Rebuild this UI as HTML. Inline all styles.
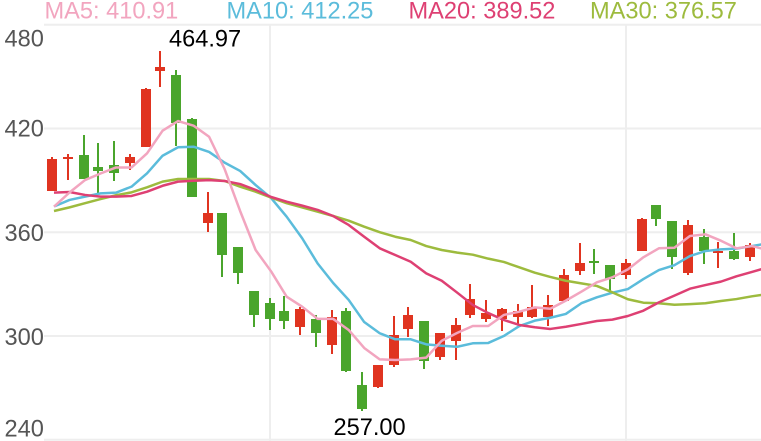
<!DOCTYPE html>
<html lang="en">
<head>
<meta charset="utf-8">
<title>Candlestick chart with moving averages</title>
<style>
html,body{margin:0;padding:0;background:#fff;width:761px;height:441px;overflow:hidden}
svg{display:block;font-family:"Liberation Sans",Arial,sans-serif}
</style>
</head>
<body>
<svg id="chart" width="761" height="441" viewBox="0 0 761 441" xmlns="http://www.w3.org/2000/svg">
  <g id="grid"></g>
  <g id="yaxis"></g>
  <g id="candles"></g>
  <g id="lines"></g>
  <g font-size="23.6">
    <text x="44.5" y="18.5" fill="#f2a5bf">MA5: 410.91</text>
    <text x="226.5" y="18.5" fill="#5bbcdb">MA10: 412.25</text>
    <text x="408.5" y="18.5" fill="#de4073">MA20: 389.52</text>
    <text x="590" y="18.5" fill="#9dbb3e">MA30: 376.57</text>
  </g>
  <text x="169" y="46.5" font-size="23.6" fill="#000">464.97</text>
  <text x="333.5" y="435" font-size="23.6" fill="#000">257.00</text>
</svg>
<script>
var yTicks = [480, 420, 360, 300, 240];
var yTickBaselines = ["46.5", "136.5", "241", "345", "436.5"];
var xGridCategories = [14, 37];
var opens = [384.2,402.7,405.0,398.1,399.2,400.4,409.7,453.7,451.3,425.9,365.6,371.4,351.8,326.3,319.3,314.7,305.4,310.1,295.0,314.7,271.8,270.7,283.4,304.3,308.9,288.1,297.3,312.4,310.1,310.1,311.2,311.2,311.2,320.5,337.9,343.6,341.3,335.5,349.4,376.1,366.8,336.7,357.5,348.3,349.4,346.0];
var closes = [402.7,403.9,391.1,395.8,394.6,403.9,443.2,456.0,423.5,380.7,371.4,347.1,336.7,312.4,310.1,308.9,315.9,302.0,311.2,280.0,258.0,283.4,300.8,312.4,285.7,302.0,306.6,321.6,313.5,315.9,314.7,317.0,318.2,335.5,342.5,342.5,333.2,342.5,368.0,368.0,346.0,364.5,349.4,349.4,344.8,352.9];
var lows = [384.2,390.5,391.1,382.4,390.0,396.3,409.7,444.4,410.2,380.7,360.4,334.6,330.3,305.4,303.7,304.3,300.8,293.9,290.0,279.2,257.0,270.1,282.4,299.6,281.1,286.3,286.2,310.6,308.3,303.1,307.2,310.6,306.0,320.5,335.5,336.3,326.3,333.2,349.4,363.9,339.0,335.7,341.9,339.6,344.2,343.6];
var highs = [404.0,405.6,416.6,412.1,413.1,405.6,443.8,464.97,454.2,426.4,383.8,371.4,351.8,326.3,322.2,323.6,317.2,312.2,315.3,316.4,279.6,283.4,311.8,317.0,308.9,302.0,310.5,330.5,320.9,316.4,318.7,329.7,323.8,339.0,354.1,350.6,341.3,344.8,368.5,376.1,366.8,367.4,362.0,354.6,359.9,354.1];
var ma5 = [375.1,383.3,390.5,394.3,397.8,397.8,406.0,419.1,424.7,422.0,415.6,396.9,372.6,350.0,337.6,323.0,317.2,310.1,310.1,303.7,293.3,286.7,286.3,286.7,287.7,297.5,302.0,306.0,306.0,312.4,314.3,316.8,316.0,320.7,325.9,331.3,334.2,338.8,345.8,351.0,351.3,358.1,359.1,355.4,351.0,352.3,350.0];
var ma10 = [375.2,379.0,380.9,382.8,383.2,386.7,394.4,404.6,409.5,409.8,406.8,400.6,395.8,387.6,380.1,369.3,356.8,342.2,330.9,321.1,308.3,301.8,298.3,298.3,295.4,294.6,294.0,296.0,296.2,300.2,306.0,309.1,310.8,313.0,319.2,322.6,325.3,327.4,333.2,338.4,341.2,346.5,349.4,350.4,350.8,352.3,353.8];
var ma20 = [383.2,383.6,381.9,380.9,380.9,381.3,383.8,387.2,389.6,390.1,390.5,390.0,388.2,384.8,380.7,378.0,375.7,373.2,369.7,364.5,357.7,351.0,347.1,343.2,336.5,332.2,325.3,318.2,313.5,309.5,306.6,305.3,304.3,305.6,307.2,308.9,309.7,311.8,314.9,319.7,323.6,327.6,329.7,331.7,334.8,337.3,339.9];
var ma30 = [372.6,374.7,377.1,379.5,381.7,383.4,386.3,389.6,391.1,391.1,391.1,390.0,386.7,383.8,380.4,377.1,374.7,372.2,369.7,367.0,363.5,360.3,357.7,355.8,352.3,350.0,348.5,347.3,345.0,343.1,340.0,336.9,334.4,332.2,330.7,329.2,325.5,321.5,319.5,319.2,318.3,318.7,319.2,320.5,321.6,323.2,324.5];

var NS = 'http://www.w3.org/2000/svg';
function yPrice(v) { return 25.5 + (480 - v) * 1.7271; }
function yGrid(v) { return 24.7 + (480 - v) * 1.7295; }
function xCandle(i) { return 2 * Math.round((52 + 15.51 * i) / 2); }
function xLine(i) { return 54 + 15.51 * i; }
function make(tag, attrs, parent) {
  var el = document.createElementNS(NS, tag);
  for (var k in attrs) { el.setAttribute(k, attrs[k]); }
  parent.appendChild(el);
  return el;
}

var gridG = document.getElementById('grid');
yTicks.forEach(function (t) {
  var l = make('line', { x1: 44, x2: 761, y1: yGrid(t), y2: yGrid(t), stroke: '#eeeeee', 'stroke-width': 2 }, gridG);
  
  
});
xGridCategories.forEach(function (c) {
  var x = xCandle(c);
  var l = make('line', { x1: x, x2: x, y1: 25, y2: 441, stroke: '#eeeeee', 'stroke-width': 2 }, gridG);
  
  
});

var yaxisG = document.getElementById('yaxis');
yTicks.forEach(function (t, i) {
  var tx = make('text', { x: 4.5, y: yTickBaselines[i], 'font-size': 23.6, fill: '#555555' }, yaxisG);
  tx.textContent = String(t);
  
  
});

var candlesG = document.getElementById('candles');
opens.forEach(function (o, i) {
  var c = closes[i];
  var color = c >= o ? '#e03420' : '#4aa52c';
  var x = xCandle(i);
  var g = make('g', { 'shape-rendering': 'crispEdges', fill: color }, candlesG);
  
  
  var hiY = Math.round(yPrice(highs[i]));
  var loY = Math.round(yPrice(lows[i]));
  var topY = Math.round(yPrice(Math.max(o, c)));
  var botY = Math.round(yPrice(Math.min(o, c)));
  make('rect', { x: x - 1, y: hiY, width: 2, height: Math.max(0, loY - hiY) }, g);
  make('rect', { x: x - 5, y: topY, width: 10, height: Math.max(1, botY - topY) }, g);
});

var linesG = document.getElementById('lines');
function drawLine(values, color, name) {
  var pts = values.map(function (v, i) {
    return xLine(i).toFixed(2) + ',' + yPrice(v).toFixed(2);
  }).join(' ');
  var p = make('polyline', { points: pts, fill: 'none', stroke: color, 'stroke-width': 2.5, 'stroke-linejoin': 'round' }, linesG);
  
  
}
drawLine(ma10, '#5bbcdb', 'ma10-line');
drawLine(ma30, '#9dbb3e', 'ma30-line');
drawLine(ma20, '#de4073', 'ma20-line');
drawLine(ma5, '#f2a5bf', 'ma5-line');
</script>
</body>
</html>
